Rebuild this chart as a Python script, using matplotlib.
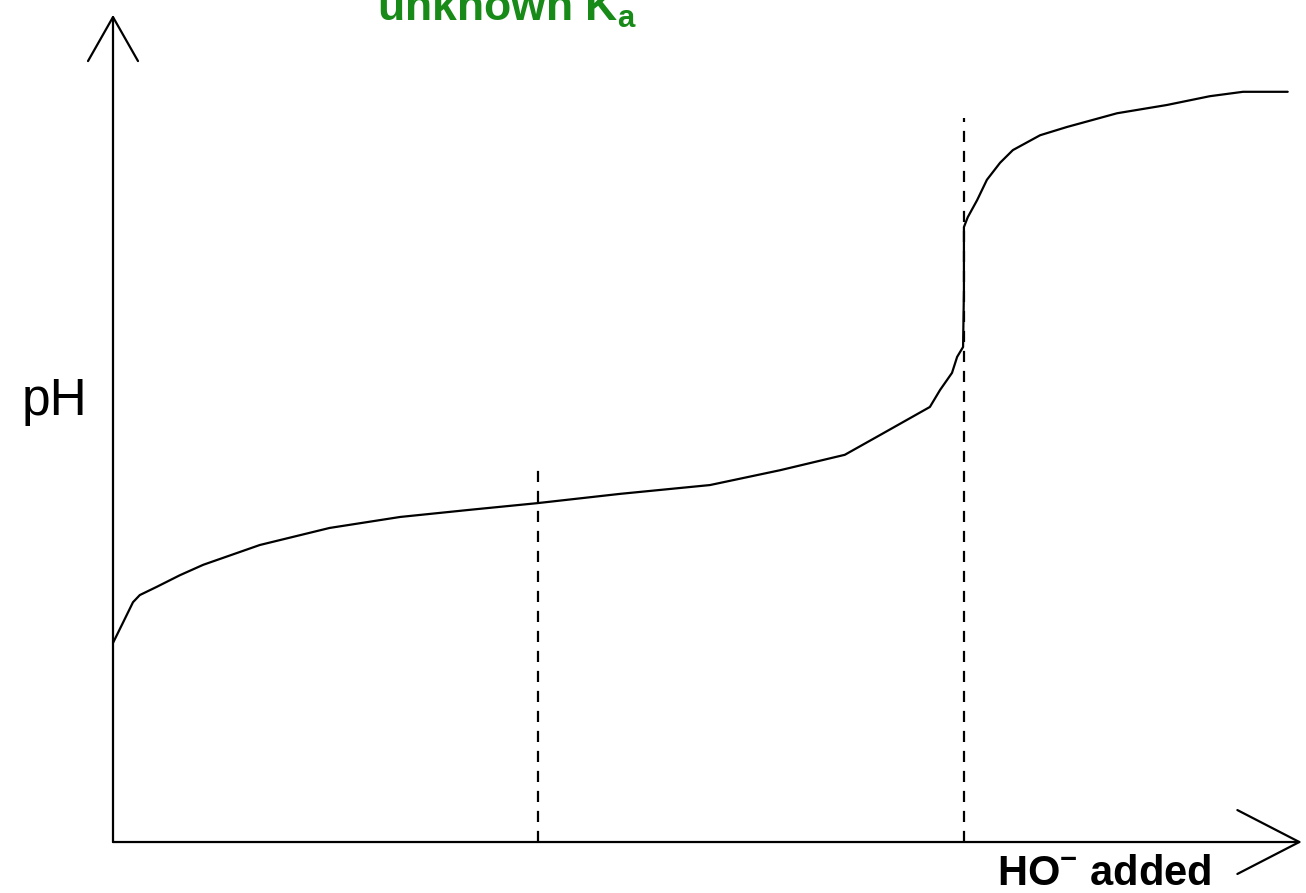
import matplotlib
matplotlib.use("Agg")
import matplotlib.pyplot as plt
from matplotlib.patches import ArrowStyle

# ---- data: titration curve (volume of HO- added, pH) ----
volume = [0.0, 0.21, 0.47, 0.63, 1.03, 1.57, 2.12, 3.45, 5.09, 6.75, 8.39,
          9.96, 11.92, 14.03, 15.68, 17.20, 18.03, 19.20, 19.44, 19.72,
          19.84, 19.98, 20.0, 20.0, 20.09, 20.31, 20.54, 20.85, 21.15,
          21.79, 22.42, 23.60, 24.77, 25.78, 26.56, 27.61]
ph = [3.62, 3.95, 4.36, 4.49, 4.64, 4.85, 5.04, 5.40, 5.71, 5.91, 6.04,
      6.16, 6.33, 6.49, 6.76, 7.04, 7.40, 7.91, 8.22, 8.53,
      8.82, 9.00, 10.04, 11.18, 11.36, 11.67, 12.04, 12.35, 12.58,
      12.85, 13.00, 13.25, 13.40, 13.56, 13.64, 13.64]

equivalence_volume = 20.0
half_equivalence_volume = equivalence_volume / 2
half_eq_line_top = 6.91
eq_line_top = 13.16

title_text = r"unknown K$_\mathregular{a}$"
xlabel_text = r"HO$^\mathregular{-}$ added"
ylabel_text = "pH"

# ---- layout ----
W, H = 1306, 893
fig = plt.figure(figsize=(W / 100, H / 100), dpi=100)
fig.patch.set_facecolor("white")
ax = fig.add_axes([0, 0, 1, 1])
ax.set_xlim(-2.656, 28.04)
ax.set_ylim(-0.927, 15.309)
ax.axis("off")

# axes with open arrowheads
x_axis_end = 27.94
y_axis_end = 15.04
ax.annotate("", xy=(0, y_axis_end), xytext=(0, 0),
            arrowprops=dict(arrowstyle=ArrowStyle("->", head_length=31.7, head_width=18),
                            mutation_scale=1, lw=1.6, color="black",
                            shrinkA=0, shrinkB=0))
ax.annotate("", xy=(x_axis_end, 0), xytext=(0, 0),
            arrowprops=dict(arrowstyle=ArrowStyle("->", head_length=44.6, head_width=23),
                            mutation_scale=1, lw=1.6, color="black",
                            shrinkA=0, shrinkB=0))

# dashed vertical guide lines
dash = (0, (5, 4))
ax.plot([half_equivalence_volume, half_equivalence_volume], [0, half_eq_line_top],
        color="black", lw=1.6, linestyle=dash)
ax.plot([equivalence_volume, equivalence_volume], [0, eq_line_top],
        color="black", lw=1.6, linestyle=dash)

# titration curve
ax.plot(volume, ph, color="black", lw=1.6, solid_capstyle="round")

# texts
bold_fam = ["Liberation Sans", "DejaVu Sans"]
fig.text(377 / W, 1 - 21 / H, title_text, color="#178a17", fontsize=32,
         fontweight="bold", family=bold_fam, ha="left", va="baseline")
fig.text(997 / W, 1 - 885 / H, xlabel_text, color="black", fontsize=30,
         fontweight="bold", family=bold_fam, ha="left", va="baseline")
fig.text(22 / W, 1 - 415 / H, ylabel_text, color="black", fontsize=37,
         family=["Liberation Sans", "DejaVu Sans"], ha="left", va="baseline")

fig.savefig("out.png", dpi=100, facecolor="white")
